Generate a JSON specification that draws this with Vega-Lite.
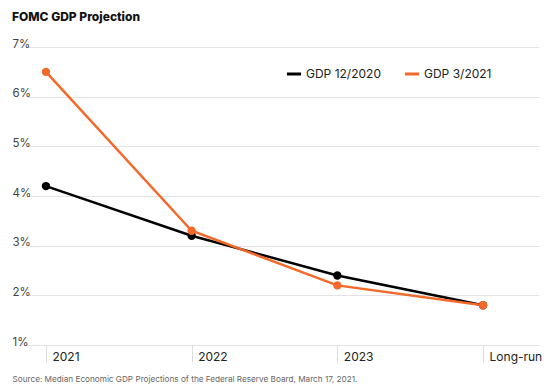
{
  "$schema": "https://vega.github.io/schema/vega-lite/v6.json",
  "autosize": {"type": "none"},
  "width": 512,
  "height": 298,
  "padding": {"left": 27, "top": 47, "right": 11, "bottom": 46},
  "background": "white",
  "config": {"view": {"stroke": null}, "font": "Inter"},
  "title": {
    "text": "FOMC GDP Projection",
    "anchor": "start",
    "frame": "group",
    "dx": -15,
    "dy": -10,
    "fontSize": 12,
    "fontWeight": 800,
    "color": "#111",
    "font": "Inter"
  },
  "data": {
    "values": [
      {"period": "2021", "series": "GDP 12/2020", "gdp": 4.2},
      {"period": "2022", "series": "GDP 12/2020", "gdp": 3.2},
      {"period": "2023", "series": "GDP 12/2020", "gdp": 2.4},
      {"period": "Long-run", "series": "GDP 12/2020", "gdp": 1.8},
      {"period": "2021", "series": "GDP 3/2021", "gdp": 6.5},
      {"period": "2022", "series": "GDP 3/2021", "gdp": 3.3},
      {"period": "2023", "series": "GDP 3/2021", "gdp": 2.2},
      {"period": "Long-run", "series": "GDP 3/2021", "gdp": 1.8}
    ]
  },
  "encoding": {
    "x": {
      "field": "period",
      "type": "ordinal",
      "sort": null,
      "scale": {"type": "point", "padding": 0.257, "align": 0.253},
      "axis": {
        "title": "Source: Median Economic GDP Projections of the Federal Reserve Board, March 17, 2021.",
        "titleAnchor": "start",
        "titleAlign": "left",
        "titleX": -15,
        "titleY": 34,
        "titleBaseline": "middle",
        "titleFontSize": 8.2,
        "titleFontWeight": "normal",
        "titleColor": "#666",
        "labelAngle": 0,
        "domain": false,
        "ticks": true,
        "tickSize": 17,
        "tickColor": "#dddddd",
        "tickWidth": 1,
        "labelAlign": "left",
        "labelBaseline": "top",
        "labelOffset": 6,
        "labelPadding": -11,
        "labelFontSize": 12,
        "labelColor": "#222"
      }
    },
    "y": {
      "field": "gdp",
      "type": "quantitative",
      "scale": {"domain": [1, 7], "nice": false, "zero": false},
      "axis": {
        "title": null,
        "values": [1, 2, 3, 4, 5, 6, 7],
        "labelExpr": "datum.value + '%'",
        "domain": false,
        "ticks": false,
        "grid": true,
        "gridColor": "#e3e3e3",
        "labelAlign": "left",
        "labelBaseline": "alphabetic",
        "labelPadding": 15,
        "labelFontSize": 11.5,
        "labelColor": "#444"
      }
    },
    "color": {
      "field": "series",
      "type": "nominal",
      "scale": {"domain": ["GDP 12/2020", "GDP 3/2021"], "range": ["#000000", "#f2692a"]},
      "legend": {
        "title": null,
        "orient": "none",
        "legendX": 258,
        "legendY": 18,
        "direction": "horizontal",
        "symbolType": "stroke",
        "symbolSize": 200,
        "symbolStrokeWidth": 3,
        "labelFontSize": 12,
        "labelColor": "#222",
        "columnPadding": 17,
        "labelOffset": 3
      }
    }
  },
  "layer": [
    {"mark": {"type": "line", "strokeWidth": 2.5}},
    {"mark": {"type": "point", "filled": true, "size": 70, "opacity": 1}}
  ]
}
